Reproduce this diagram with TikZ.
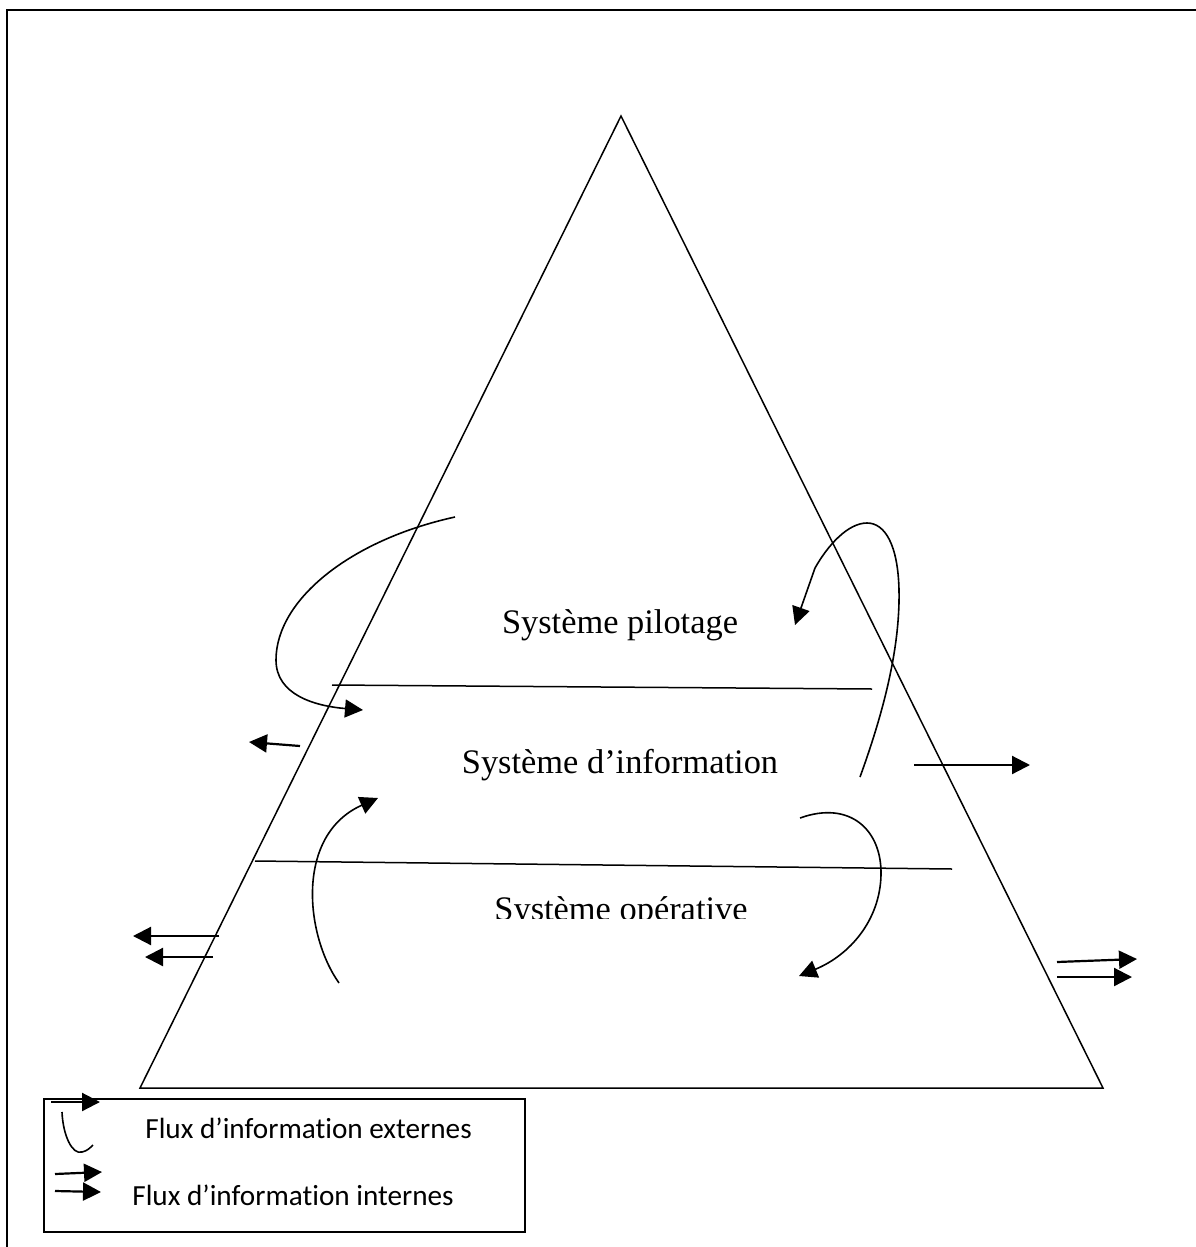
\documentclass[tikz,border=0pt]{standalone}
\usepackage{fontspec}
\setmainfont{Liberation Serif}
\newfontfamily\legendfont[Ligatures=NoCommon]{Carlito}
\usetikzlibrary{arrows.meta}
\begin{document}
\begin{tikzpicture}[x=0.5pt,y=-0.5pt,
  flow/.style={line width=1.1pt,-{Triangle[length=9pt,width=9pt]}},
  loopline/.style={line width=0.8pt},
  edgeline/.style={line width=0.75pt},
  layer/.style={font=\fontsize{17.2}{20}\selectfont,anchor=base,inner sep=0pt},
  legendtext/.style={font=\legendfont\fontsize{14.6}{17}\selectfont,anchor=base west,inner sep=0pt}]
\useasboundingbox (0,0) rectangle (1195,1247);
% outer frame (clipped at right and bottom)
\draw[line width=1.1pt] (7,1300) |- (1250,10);
% triangle
\coordinate (apex) at (621,116);
\coordinate (bl) at (140,1088);
\coordinate (br) at (1103,1088);
\draw[edgeline] (apex) -- (bl) -- (br) -- cycle;
% layer separators
\coordinate (s1a) at (332,685); \coordinate (s1b) at (872,689);
\coordinate (s2a) at (255,861); \coordinate (s2b) at (952,869);
\draw[edgeline] (s1a) -- (s1b);
\draw[edgeline] (s2a) -- (s2b);
% labels
\node[layer] (pil) at (620,633) {Système pilotage};
\node[layer] (inf) at (620,773) {Système d’information};
\begin{scope}
\clip (400,880) rectangle (850,918.5);
\node[layer] (ope) at (621,920) {Système opérative};
\end{scope}
% left big loop
\coordinate (l1s) at (455,517);
\coordinate (l1e) at (363,710);
\draw[loopline,-{Triangle[length=9pt,width=9pt]}] (l1s) .. controls (350,540) and (276,600) .. (276,660)
  .. controls (276,695) and (315,706) .. (l1e);
% left single outward arrow
\coordinate (la1) at (300,746); \coordinate (la2) at (249,742);
\draw[flow] (la1) -- (la2);
% left lower curved arrow
\coordinate (l2s) at (339,983);
\coordinate (l2e) at (378,798);
\draw[loopline,-{Triangle[length=9pt,width=9pt]}] (l2s) .. controls (305,935) and (295,835) .. (l2e);
% right top loop
\coordinate (r1s) at (860,777);
\coordinate (r1k) at (815,568);
\coordinate (r1e) at (795,625);
\draw[loopline,-{Triangle[length=9pt,width=9pt]}] (r1s) .. controls (888,700) and (900,640) .. (899,590)
  .. controls (898,545) and (885,523) .. (867,523)
  .. controls (848,523) and (828,545) .. (r1k) -- (r1e);
% right single outward arrow
\coordinate (ra1) at (914,765); \coordinate (ra2) at (1030,765);
\draw[flow] (ra1) -- (ra2);
% right lower curved arrow
\coordinate (r2s) at (800,818);
\coordinate (r2e) at (799,976);
\draw[loopline,-{Triangle[length=9pt,width=9pt]}] (r2s) .. controls (850,800) and (882,830) .. (881,875)
  .. controls (880,920) and (850,955) .. (r2e);
% left double arrows
\coordinate (ld1a) at (219,936); \coordinate (ld1b) at (133,936);
\coordinate (ld2a) at (213,957); \coordinate (ld2b) at (145,957);
\draw[flow] (ld1a) -- (ld1b);
\draw[flow] (ld2a) -- (ld2b);
% right double arrows
\coordinate (rd1a) at (1057,962); \coordinate (rd1b) at (1137,959);
\coordinate (rd2a) at (1057,977); \coordinate (rd2b) at (1132,977);
\draw[flow] (rd1a) -- (rd1b);
\draw[flow] (rd2a) -- (rd2b);
% legend
\coordinate (lg1) at (44,1099); \coordinate (lg2) at (525,1232);
\draw[line width=0.75pt] (lg1) rectangle (lg2);
\coordinate (lga) at (51,1102); \coordinate (lgb) at (100,1102);
\draw[flow] (lga) -- (lgb);
\coordinate (lgc1) at (62,1112); \coordinate (lgc2) at (93,1145);
\draw[loopline] (lgc1) .. controls (63,1135) and (72,1155) .. (82,1152) .. controls (87,1151) and (90,1148) .. (lgc2);
\coordinate (lgi1a) at (55,1174); \coordinate (lgi1b) at (102,1172);
\coordinate (lgi2a) at (55,1191); \coordinate (lgi2b) at (101,1192);
\draw[flow] (lgi1a) -- (lgi1b);
\draw[flow] (lgi2a) -- (lgi2b);
\node[legendtext] (ext) at (145,1138) {Flux d’information externes};
\node[legendtext] (int) at (132,1205) {Flux d’information internes};
\end{tikzpicture}
\end{document}
